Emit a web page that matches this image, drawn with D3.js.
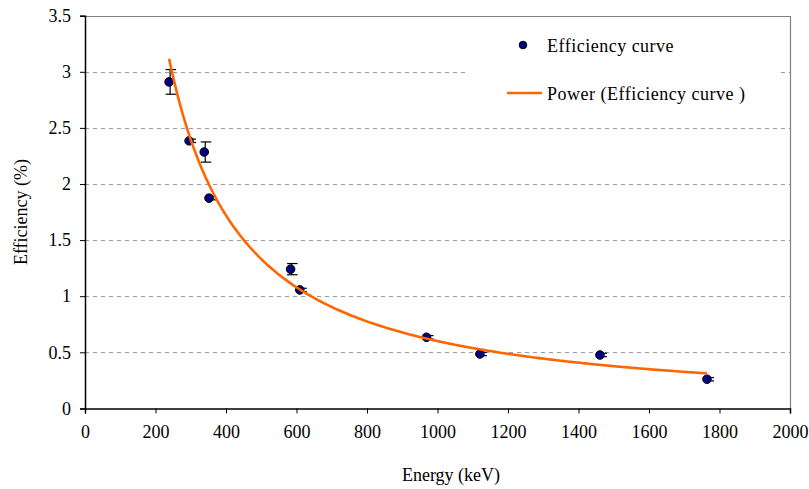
<!DOCTYPE html>
<html>
<head>
<meta charset="utf-8">
<script src="https://cdn.jsdelivr.net/npm/d3@7"></script>
<style>
  body { margin: 0; background: #fff; }
  svg text { font-family: "Liberation Serif", "Times New Roman", Times, serif !important; fill: #000; }
  .grid line { stroke: #9a9a9a; stroke-dasharray: 4,4; }
  .axis path, .axis line { stroke: #000; }
</style>
</head>
<body>
<script>
//gamma line energies (keV) and measured efficiencies (%)
var energy = [238.6, 295.2, 338.3, 351.9, 583.2, 609.3, 968.9, 1120.3, 1460.8, 1764.5];
var efficiency = [2.91, 2.385, 2.285, 1.874, 1.241, 1.056, 0.634, 0.485, 0.476, 0.26];
var errors = [0.11, 0.015, 0.09, 0.015, 0.05, 0.015, 0.015, 0.015, 0.015, 0.015];
var xTicks = [0, 200, 400, 600, 800, 1000, 1200, 1400, 1600, 1800, 2000];
var yTicks = [0, 0.5, 1, 1.5, 2, 2.5, 3, 3.5];
var legendLabels = ["Efficiency curve", "Power (Efficiency curve )"];

window.onload = drawChart();

function drawChart(){

    var width = 809, height = 489;
    var margin = {top: 15.7, right: 19, bottom: 80.6, left: 85};

    var svg = d3.select("body")
        .append("svg")
        .attr("width", width)
        .attr("height", height);

    var x = d3.scaleLinear()
        .domain([0, 2000])
        .range([margin.left, width - margin.right]);

    var y = d3.scaleLinear()
        .domain([0, 3.5])
        .range([height - margin.bottom, margin.top]);

    //dashed gridlines
    svg.append("g")
        .attr("class", "grid")
        .selectAll("line")
        .data(yTicks.filter(function(d){ return d > 0 && d < 3.5; }))
        .enter()
        .append("line")
        .attr("x1", x(0))
        .attr("x2", x(2000))
        .attr("y1", function(d){ return Math.round(y(d)) + 0.5; })
        .attr("y2", function(d){ return Math.round(y(d)) + 0.5; });

    //top and right frame
    svg.append("path")
        .attr("d", "M" + x(0) + "," + (Math.round(y(3.5)) + 0.5) + "H" + (Math.round(x(2000)) + 0.5) + "V" + y(0))
        .attr("fill", "none")
        .attr("stroke", "#808080")
        .attr("stroke-width", 1.2);

    //legend background hides grid
    svg.append("rect")
        .attr("x", 468)
        .attr("y", 24)
        .attr("width", 312)
        .attr("height", 92)
        .attr("fill", "#fff");

    //axes
    svg.append("g")
        .attr("class", "axis")
        .attr("transform", "translate(0," + y(0) + ")")
        .call(d3.axisBottom(x).tickValues(xTicks).tickSize(5).tickPadding(12).tickFormat(d3.format("d")))
        .call(function(g){
            g.select(".domain").attr("stroke-width", 1.5);
            g.selectAll("text").attr("font-size", "18px");
        });

    svg.append("g")
        .attr("class", "axis")
        .attr("transform", "translate(" + x(0) + ",0)")
        .call(d3.axisLeft(y).tickValues(yTicks).tickSize(5).tickPadding(9).tickFormat(function(d){ return d; }))
        .call(function(g){
            g.select(".domain").attr("stroke-width", 1.5);
            g.selectAll("text").attr("font-size", "18px");
        });

    //axis titles
    svg.append("text")
        .attr("x", 451)
        .attr("y", 481)
        .attr("text-anchor", "middle")
        .attr("font-size", "18px")
        .text("Energy (keV)");

    svg.append("text")
        .attr("transform", "translate(27,212) rotate(-90)")
        .attr("text-anchor", "middle")
        .attr("font-size", "18px")
        .text("Efficiency (%)");

    //power trendline: least squares fit in log-log space
    var lx = energy.map(Math.log), ly = efficiency.map(Math.log);
    var mx = d3.mean(lx), my = d3.mean(ly);
    var b = d3.sum(lx, function(d, i){ return (d - mx) * (ly[i] - my); }) /
            d3.sum(lx, function(d){ return (d - mx) * (d - mx); });
    var a = Math.exp(my - b * mx);
    var fitX = d3.range(energy[0], energy[energy.length - 1], 5).concat([energy[energy.length - 1]]);

    var line = d3.line()
        .x(function(d){ return x(d); })
        .y(function(d){ return y(a * Math.pow(d, b)); });

    //error bars
    var bars = svg.selectAll(".err")
        .data(energy)
        .enter()
        .append("g")
        .attr("class", "err")
        .attr("stroke", "#000")
        .attr("stroke-width", 1.2);

    bars.append("line")
        .attr("x1", function(d){ return x(d) + 1; })
        .attr("x2", function(d){ return x(d) + 1; })
        .attr("y1", function(d, i){ return y(efficiency[i] + errors[i]); })
        .attr("y2", function(d, i){ return y(efficiency[i] - errors[i]); });

    [1, -1].forEach(function(s){
        bars.append("line")
            .attr("x1", function(d){ return x(d) - 3.5; })
            .attr("x2", function(d){ return x(d) + 7; })
            .attr("y1", function(d, i){ return y(efficiency[i] + s * errors[i]); })
            .attr("y2", function(d, i){ return y(efficiency[i] + s * errors[i]); });
    });

    //data markers
    svg.selectAll(".dot")
        .data(energy)
        .enter()
        .append("circle")
        .attr("class", "dot")
        .attr("cx", function(d){ return x(d); })
        .attr("cy", function(d, i){ return y(efficiency[i]); })
        .attr("r", 4.3)
        .attr("fill", "#000080")
        .attr("stroke", "#000")
        .attr("stroke-width", 1);

    svg.append("path")
        .datum(fitX)
        .attr("d", line)
        .attr("fill", "none")
        .attr("stroke", "#ff6600")
        .attr("stroke-width", 2.6);

    //legend
    var legend = svg.append("g");

    legend.append("circle")
        .attr("cx", 523)
        .attr("cy", 45)
        .attr("r", 3.8)
        .attr("fill", "#000080")
        .attr("stroke", "#000");

    legend.append("line")
        .attr("x1", 507)
        .attr("x2", 542)
        .attr("y1", 93)
        .attr("y2", 93)
        .attr("stroke", "#ff6600")
        .attr("stroke-width", 2.6);

    legend.selectAll("text")
        .data(legendLabels)
        .enter()
        .append("text")
        .attr("x", 547)
        .attr("y", function(d, i){ return 52 + i * 48; })
        .attr("font-size", "18px")
        .attr("letter-spacing", "0.5px")
        .text(function(d){ return d; });
}
</script>
</body>
</html>
